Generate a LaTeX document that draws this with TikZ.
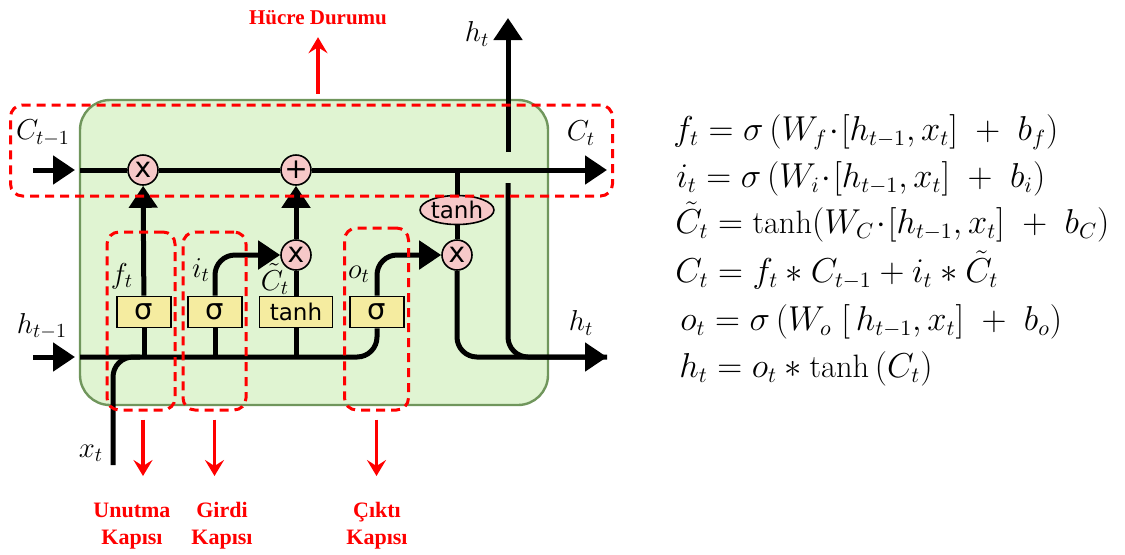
\documentclass[tikz,border=0pt]{standalone}
\usepackage{fontspec}
\usepackage{amsmath}
\usetikzlibrary{arrows.meta,shapes.geometric}
\newfontfamily\boxfont{DejaVu Sans}
\newfontfamily\redfont{Liberation Serif}
\definecolor{cellgreen}{RGB}{224,244,210}
\definecolor{celledge}{RGB}{112,150,92}
\definecolor{oppink}{RGB}{246,200,200}
\definecolor{gateyellow}{RGB}{245,236,160}
\tikzset{
	flow/.style={line width=2.5pt},
	tip/.style={-{Triangle[length=11pt,width=14pt]}},
	cell/.style={draw=celledge, fill=cellgreen, line width=1.2pt, rounded corners=15pt, minimum width=234pt, minimum height=152.5pt},
	gatebox/.style={draw, fill=gateyellow, line width=0.8pt, minimum width=27pt, minimum height=15.5pt, inner sep=0pt},
	pointop/.style={circle, draw, fill=oppink, line width=0.8pt, minimum size=15pt, inner sep=0pt, font=\boxfont\fontsize{14}{14}\selectfont},
	squash/.style={ellipse, draw, fill=oppink, line width=0.8pt, minimum width=36.5pt, minimum height=14.5pt, inner sep=0pt, font=\boxfont\fontsize{11.5}{11.5}\selectfont},
	zone/.style={draw=red, line width=1.5pt, dash pattern=on 4.5pt off 3pt, rounded corners=6pt, inner sep=0pt},
	redarrow/.style={draw=red, line width=1.7pt, -{Stealth[length=8pt,width=9.5pt,inset=3pt]}},
	redlabel/.style={text=red, align=center, font=\redfont\bfseries\fontsize{11}{13.5}\selectfont},
	lbl/.style={font=\fontsize{14}{16}\selectfont, inner sep=0pt},
	eq/.style={anchor=base west, font=\fontsize{16.2}{18}\selectfont, inner sep=0pt}
}
\newcommand{\sigtext}{{\boxfont\fontsize{14.5}{14.5}\selectfont σ}}
\newcommand{\tanhtext}{{\boxfont\fontsize{11.5}{11.5}\selectfont tanh}}

\begin{document}
\begin{tikzpicture}[x=0.5pt, y=-0.5pt]
	\useasboundingbox (0,0) rectangle (1125,554);
	\node[cell] (cell) at (314,252.5) {};

	% gates and pointwise operations
	\node[pointop] (mulf) at (143,170) {x};
	\node[pointop] (add) at (296,170) {+};
	\node[squash] (tanhc) at (457,210) {tanh};
	\node[pointop] (mulo) at (457,255) {x};
	\node[pointop] (muli) at (296,255) {x};
	\node[gatebox] (sigf) at (144,312) {\sigtext};
	\node[gatebox] (sigi) at (215,312) {\sigtext};
	\node[gatebox, minimum width=36.5pt] (tanhg) at (296,312) {\tanhtext};
	\node[gatebox] (sigo) at (377,312) {\sigtext};

	\coordinate (cin) at (33,170);
	\coordinate (cinend) at (75,170);
	\coordinate (cstart) at (80,170);
	\coordinate (cout) at (607,170);
	\coordinate (ctap) at (457,170);
	\coordinate (hin) at (33,357);
	\coordinate (hinend) at (75,357);
	\coordinate (hstart) at (80,357);
	\coordinate (hout) at (607,357);
	\coordinate (xin) at (113,465);
	\coordinate (xmerge) at (140,357);
	\coordinate (ftap) at (144,357);
	\coordinate (itap) at (215,357);
	\coordinate (gtap) at (296,357);
	\coordinate (hvlow) at (508,183);
	\coordinate (hvhigh) at (508,152);
	\coordinate (htop) at (508,18);

	% cell state
	\draw[flow, tip] (cin) -- (cinend);
	\draw[flow, tip] (cstart) -- (mulf) -- (add) -- (cout);
	\draw[flow] (ctap) -- (tanhc) -- (mulo);

	% hidden state and input
	\draw[flow, tip] (hin) -- (hinend);
	\draw[flow, rounded corners=10pt] (hstart) -| (sigo);
	\draw[flow, rounded corners=10pt] (xin) |- (xmerge);
	\draw[flow] (ftap) -- (sigf);
	\draw[flow, tip] (sigf) -- (mulf);
	\draw[flow] (itap) -- (sigi);
	\draw[flow, tip, rounded corners=10pt] (sigi) |- (muli);
	\draw[flow] (gtap) -- (tanhg) -- (muli);
	\draw[flow, tip] (muli) -- (add);
	\draw[flow, tip, rounded corners=10pt] (sigo) |- (mulo);
	\draw[flow, tip, rounded corners=10pt] (mulo) |- (hout);
	\draw[flow, rounded corners=10pt] (hvlow) |- (hout);
	\draw[flow, tip] (hvhigh) -- (htop);

	% labels
	\node[lbl] (lcprev) at (43,133) {$C_{t-1}$};
	\node[lbl] (lc) at (581,133) {$C_t$};
	\node[lbl] (lhtop) at (477,34) {$h_t$};
	\node[lbl] (lhprev) at (42,326) {$h_{t-1}$};
	\node[lbl] (lh) at (581,323) {$h_t$};
	\node[lbl] (lx) at (91,453) {$x_t$};
	\node[lbl] (lf) at (122,276) {$f_t$};
	\node[lbl] (li) at (201,270) {$i_t$};
	\node[lbl] (lct) at (275,279) {$\tilde{C}_t$};
	\node[lbl] (lo) at (359,274) {$o_t$};

	% highlighted parts
	\node[zone, minimum width=301pt, minimum height=45.5pt] (cellzone) at (311.5,150.5) {};
	\node[zone, minimum width=34pt, minimum height=89pt] (fzone) at (141,321) {};
	\node[zone, minimum width=31.5pt, minimum height=89pt] (izone) at (214.5,321) {};
	\node[zone, minimum width=32pt, minimum height=91pt] (ozone) at (376.5,319) {};

	\node[redlabel, font=\redfont\bfseries\fontsize{10.5}{12}\selectfont] (lcell) at (318,18) {Hücre Durumu};
	\node[redlabel] (lfgate) at (132,526) {Unutma\\Kapısı};
	\node[redlabel] (ligate) at (222,526) {Girdi\\Kapısı};
	\node[redlabel] (logate) at (377,526) {Çıktı\\Kapısı};

	\draw[redarrow] ([xshift=3.25pt, yshift=5pt]cellzone.north) -- ([xshift=3.25pt, yshift=-2.5pt]cellzone.north |- lcell.south);
	\draw[redarrow] ([xshift=1pt, yshift=-4pt]fzone.south) -- ([xshift=1pt]fzone.south |- 0,476);
	\draw[redarrow] ([yshift=-4pt]izone.south) -- (izone.south |- 0,476);
	\draw[redarrow] ([yshift=-4pt]ozone.south) -- (ozone.south |- 0,476);

	% equations
	\node[eq] (eqf) at (673,140) {$f_t = \sigma\,(W_f\!\cdot\![h_{t-1},x_t]\ +\ b_f)$};
	\node[eq] (eqi) at (676,187) {$i_t = \sigma\,(W_i\!\cdot\![h_{t-1},x_t]\ +\ b_i)$};
	\node[eq] (eqc) at (675,233) {$\tilde{C}_t = \tanh(W_C\!\cdot\![h_{t-1},x_t]\ +\ b_C)$};
	\node[eq] (eqcell) at (675,282) {$C_t = f_t * C_{t-1} + i_t * \tilde{C}_t$};
	\node[eq] (eqo) at (680,330) {$o_t = \sigma\,(W_o\ [\,h_{t-1},x_t]\ +\ b_o)$};
	\node[eq] (eqh) at (679,377) {$h_t = o_t * \tanh\,(C_t)$};
\end{tikzpicture}
\end{document}
